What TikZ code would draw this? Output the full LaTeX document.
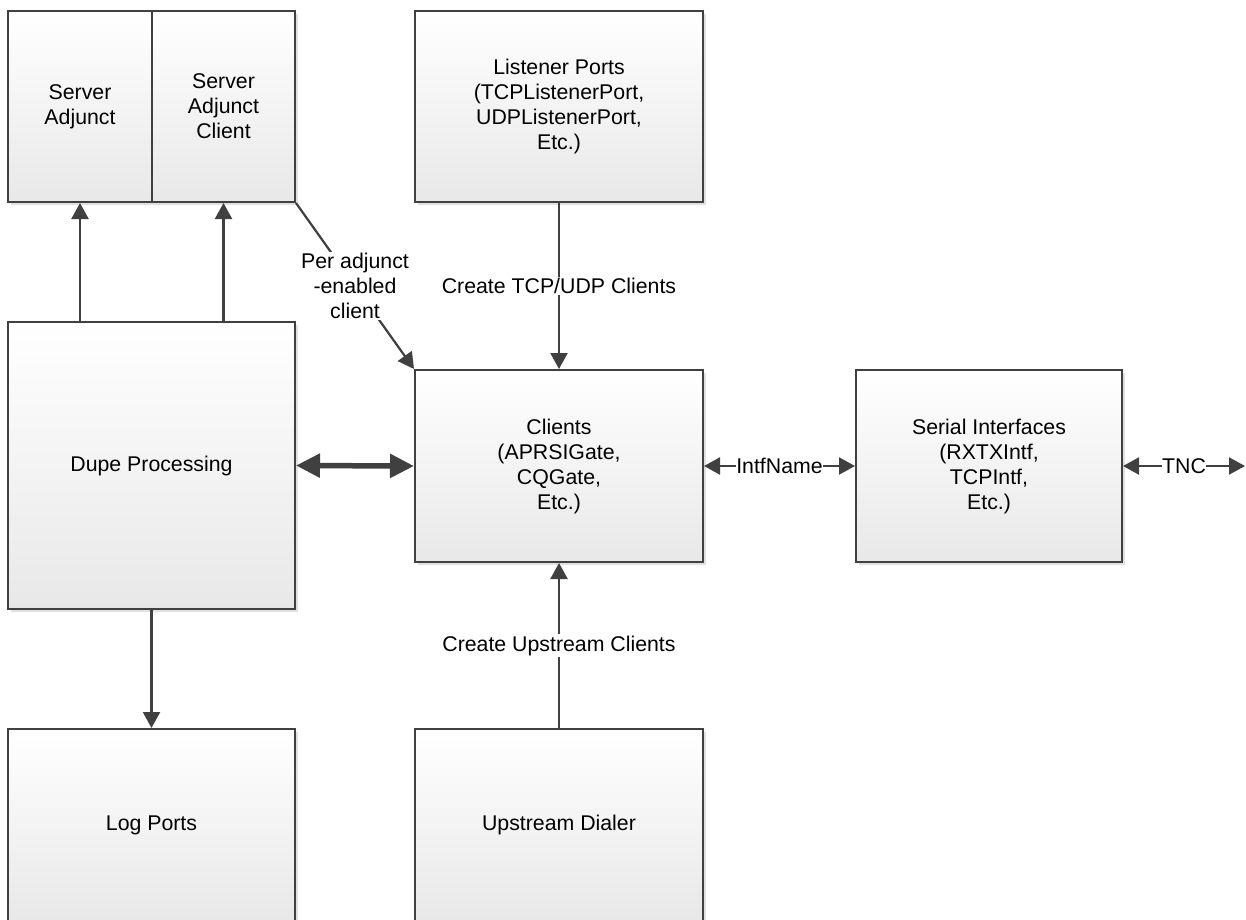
\documentclass[tikz,border=0pt]{standalone}
\usepackage{fontspec}
\setmainfont{Liberation Sans}
\usetikzlibrary{arrows.meta,shadows}
\definecolor{ln}{HTML}{404040}
\tikzset{
  txt/.style={font=\fontsize{21.3}{25}\selectfont},
  box/.style={draw=ln, line width=2pt, top color=white, bottom color=black!9,
    drop shadow={shadow xshift=3pt, shadow yshift=-3pt, opacity=0.12, fill=black},
    align=center, inner sep=0pt, txt},
  conn/.style={draw=ln, line width=2.2pt, -{Triangle[length=16pt,width=17pt]}},
  dconn/.style={draw=ln, line width=2.2pt, {Triangle[length=16pt,width=17pt]}-{Triangle[length=16pt,width=17pt]}},
  thick2/.style={draw=ln, line width=5.5pt, {Triangle[length=24pt,width=23pt]}-{Triangle[length=24pt,width=23pt]}},
  lbl/.style={fill=white, inner sep=1.5pt, align=center, txt}
}
\begin{document}
\begin{tikzpicture}[x=1pt,y=-1pt]
\clip (0,0) rectangle (1246,919);
\fill[white] (0,0) rectangle (1246,919);
% boxes
\node[box, minimum width=144pt, minimum height=191pt] (sa) at (80,106.5) {Server\\Adjunct};
\node[box, minimum width=143pt, minimum height=191pt] (sac) at (223.5,106.5) {Server\\Adjunct\\Client};
\node[box, minimum width=288pt, minimum height=191pt] (lp) at (559,106.5) {Listener Ports\\(TCPListenerPort,\\UDPListenerPort,\\Etc.)};
\node[box, minimum width=287pt, minimum height=287pt] (dupe) at (151.5,465.5) {Dupe Processing};
\node[box, minimum width=288pt, minimum height=192pt] (cl) at (559,466) {Clients\\(APRSIGate,\\CQGate,\\Etc.)};
\node[box, minimum width=266pt, minimum height=192pt] (si) at (989,466) {Serial Interfaces\\(RXTXIntf,\\TCPIntf,\\Etc.)};
\node[box, minimum width=287pt, minimum height=192pt] (log) at (151.5,825) {Log Ports};
\node[box, minimum width=288pt, minimum height=192pt] (ud) at (559,825) {Upstream Dialer};
\coordinate (tnc) at (1245,466);
% connectors
\draw[conn] (dupe.north -| sa.south) -- (sa.south);
\draw[conn] (dupe.north -| sac.south) -- (sac.south);
\draw[conn] (dupe.south) -- (log.north);
\draw[conn] (lp.south) -- node[lbl] {Create TCP/UDP Clients} (cl.north);
\draw[conn] (ud.north) -- node[lbl] {Create Upstream Clients} (cl.south);
\draw[conn] (sac.south east) -- node[lbl] {Per adjunct\\-enabled\\client} (cl.north west);
\draw[thick2] (dupe.east) -- (cl.west);
\draw[dconn] (cl.east) -- node[lbl, inner sep=0.5pt] {IntfName} (si.west);
\draw[dconn] (si.east) -- node[lbl, inner sep=0.5pt] {TNC} (tnc);
\end{tikzpicture}
\end{document}
